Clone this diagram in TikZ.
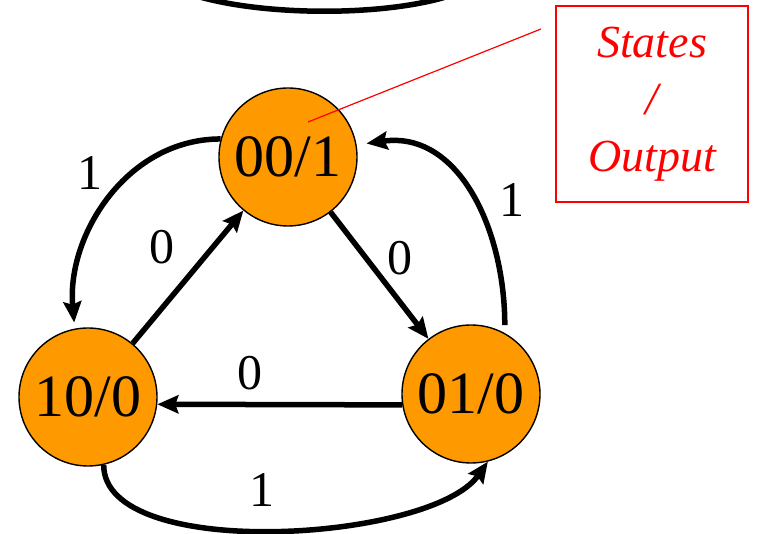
\documentclass[tikz,border=0pt]{standalone}
\usepackage{fontspec}
\setmainfont{Liberation Serif}
\usetikzlibrary{arrows.meta}
\definecolor{statefill}{HTML}{FF9900}
\definecolor{keyred}{HTML}{FF0000}

\begin{document}
\begin{tikzpicture}[x=1pt,y=1pt,>={Stealth[length=21pt,width=18pt,inset=3pt]},
  state/.style={circle,draw,fill=statefill,line width=1.4pt,minimum size=138pt,inner sep=0pt,font=\rmfamily\fontsize{60}{60}\selectfont},
  trans/.style={->,line width=5.5pt},
  lbl/.style={font=\rmfamily\fontsize{50}{50}\selectfont,inner sep=0pt}]
\useasboundingbox (0,0) rectangle (757,534);
% cut-off loop at the top
\draw[line width=5.5pt] (190,540) .. controls (260,517) and (390,517) .. (455,540);
% states
\node[state] (s001) at (288,377) {00/1};
\node[state] (s100) at (88,137) {10/0};
\node[state] (s010) at (471,140) {01/0};
% legend and pointer
\node[draw=keyred,text=keyred,line width=1.4pt,minimum width=192pt,minimum height=196pt,align=center,font=\rmfamily\fontsize{46}{57}\selectfont\itshape] (key) at (652,430) {States\\/\\Output};
\coordinate (pin) at (308,412);
\coordinate (pinend) at (541,505);
\draw[keyred,line width=1.2pt] (pin) -- (pinend);
% transitions on 0
\draw[trans] (s001) -- (s010);
\draw[trans] (s100) -- (s001);
\draw[trans] (s010.189) -- (s100.354);
\node[lbl] at (400,276) {0};
\node[lbl] at (162,287) {0};
\node[lbl] at (250,161) {0};
% transitions on 1
\draw[trans,shorten >=6pt] (s001.165) to[out=180,in=95] (s100.101);
\draw[trans,shorten <=8pt,shorten >=10pt] (s010.61) to[out=90,in=8,looseness=1.1] (s001.10);
\draw[trans] (s100.-77) to[out=-90,in=235,looseness=.65] (s010.-76);
\node[lbl] at (90,361) {1};
\node[lbl] at (512,334) {1};
\node[lbl] at (262,44) {1};
\end{tikzpicture}
\end{document}
